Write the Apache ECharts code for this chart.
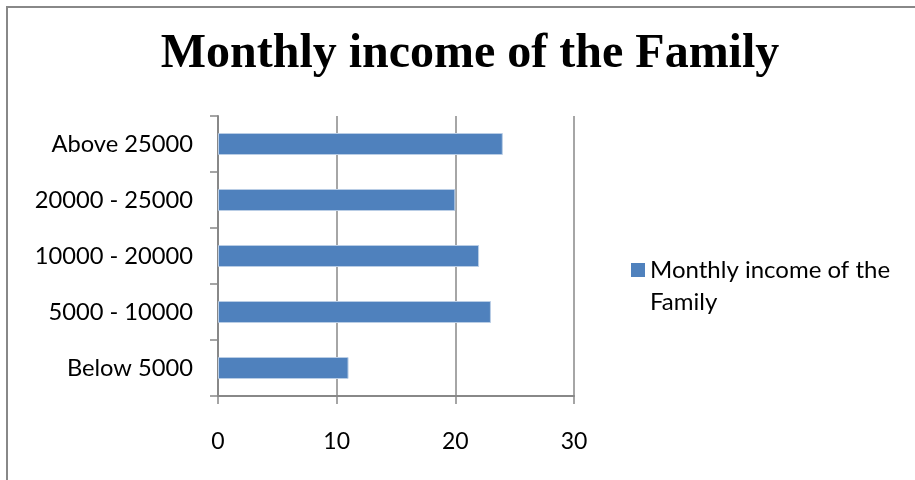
<!DOCTYPE html>
<html>
<head>
<meta charset="utf-8">
<script src="https://cdn.jsdelivr.net/npm/echarts@6/dist/echarts.min.js"></script>
<style>
    html, body { margin: 0; padding: 0; background: #fff; }
    #chart { width: 915px; height: 480px; }
</style>
</head>
<body>
<div id="chart"></div>
<script>
// data
const categories = ["Below 5000", "5000 - 10000", "10000 - 20000", "20000 - 25000", "Above 25000"];
const incomeCounts = [11, 23, 22, 20, 24];
const seriesName = "Monthly income of the Family";
const chartTitle = "Monthly income of the Family";

const axisGray = "#888888";
const labelFont = "Lato";

const chart = echarts.init(document.getElementById("chart"));

chart.setOption({
    animation: false,
    backgroundColor: "#ffffff",
    title: {
        text: chartTitle,
        left: 465,
        top: 26,
        textAlign: "center",
        textStyle: {
            fontFamily: "Liberation Serif",
            fontWeight: "bold",
            fontSize: 48,
            color: "#000"
        }
    },
    graphic: [
        {
            type: "rect",
            shape: { x: 7, y: 7, width: 940, height: 520 },
            style: { fill: "none", stroke: axisGray, lineWidth: 2 },
            silent: true
        }
    ],
    legend: {
        left: 631,
        top: 222,
        padding: 0,
        orient: "vertical",
        icon: "rect",
        itemWidth: 14,
        itemHeight: 14,
        itemGap: 10,
        itemStyle: { borderWidth: 0 },
        // blank first line keeps the marker level with the first text line
        formatter: function (name) {
            return " \nMonthly income of the\nFamily";
        },
        textStyle: {
            fontFamily: labelFont,
            fontSize: 24,
            lineHeight: 32,
            color: "#000"
        },
        data: [seriesName]
    },
    grid: {
        left: 218,
        right: 341,
        top: 116,
        bottom: 84,
        containLabel: false
    },
    xAxis: {
        type: "value",
        min: 0,
        max: 30,
        interval: 10,
        axisLine: {
            show: true,
            lineStyle: { color: axisGray, width: 2 }
        },
        axisTick: {
            show: true,
            length: 8,
            lineStyle: { color: axisGray, width: 1.5 }
        },
        splitLine: {
            show: true,
            lineStyle: { color: axisGray, width: 1.5 }
        },
        axisLabel: {
            margin: 34,
            fontFamily: labelFont,
            fontSize: 23,
            color: "#000"
        }
    },
    yAxis: {
        type: "category",
        data: categories,
        axisLine: {
            show: true,
            lineStyle: { color: axisGray, width: 2 }
        },
        axisTick: {
            show: true,
            length: 8,
            alignWithLabel: false,
            lineStyle: { color: axisGray, width: 1.5 }
        },
        axisLabel: {
            margin: 25,
            fontFamily: labelFont,
            fontSize: 23.7,
            color: "#000"
        }
    },
    series: [
        {
            name: seriesName,
            type: "bar",
            data: incomeCounts,
            barWidth: 22,
            itemStyle: {
                color: "#4f81bd",
                borderColor: "#b9cde5",
                borderWidth: 1
            }
        }
    ]
});
</script>
</body>
</html>
